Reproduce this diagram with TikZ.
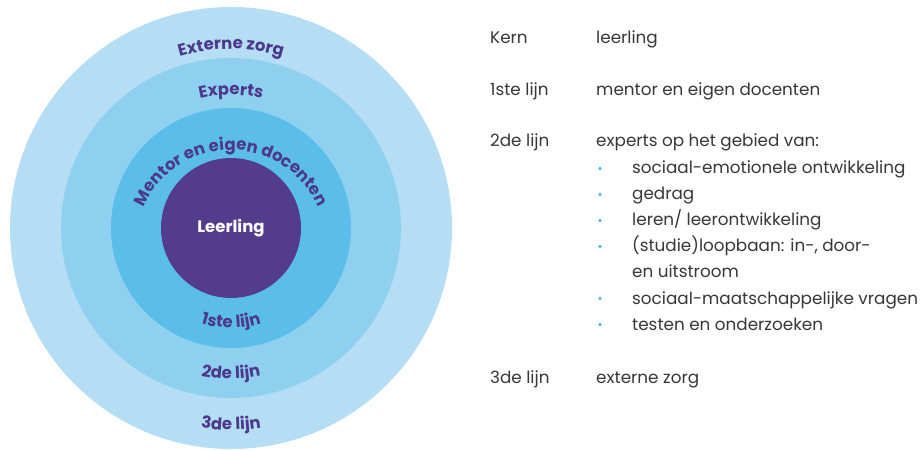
\documentclass[tikz,border=0pt]{standalone}
\usepackage{fontspec}
\setmainfont{Poppins}
\usetikzlibrary{decorations.text}
\definecolor{ringA}{RGB}{181,222,244}
\definecolor{ringB}{RGB}{143,207,240}
\definecolor{ringC}{RGB}{90,190,233}
\definecolor{core}{RGB}{84,60,140}
\definecolor{lblpurple}{RGB}{76,56,140}
\definecolor{bodytext}{RGB}{55,55,60}
\definecolor{bulletblue}{RGB}{90,185,228}
\newcommand{\lblfont}{\fontsize{16.5}{18}\selectfont\bfseries}
\tikzset{
  ring/.style={draw=none},
  arclabel/.style={decorate, decoration={text along path, text align=center, text color=lblpurple, text={|\lblfont|#1}}},
  body/.style={anchor=base west, inner sep=0pt, font=\fontsize{16.8}{18}\selectfont, text=bodytext},
  bul/.style={fill=bulletblue, draw=none, circle, inner sep=0pt, minimum size=3.8pt}
}
\begin{document}
\begin{tikzpicture}[x=1pt,y=1pt]
\useasboundingbox (0,0) rectangle (923,450);
\fill[white] (0,0) rectangle (923,450);
\coordinate (c) at (231,222);
\coordinate (m) at (231,205);
\fill[ringA] (c) circle (221);
\fill[ringB] (c) circle (170);
\fill[ringC] (c) circle (120);
\fill[core] (c) circle (70);
\node[text=white, font=\lblfont] (leerling) at (231,222) {Leerling};
% arc labels
\path[arclabel={Externe zorg}] ([shift={(125:179)}]c) arc (125:55:179);
\path[arclabel={Experts}] ([shift={(125:133)}]c) arc (125:55:133);
\path[arclabel={Mentor en eigen docenten}] ([shift={(170:95)}]m) arc (170:10:95);
\path[arclabel={1ste lijn}] ([shift={(230:100)}]c) arc (230:310:100);
\path[arclabel={2de lijn}] ([shift={(240:151)}]c) arc (240:300:151);
\path[arclabel={3de lijn}] ([shift={(245:202)}]c) arc (245:295:202);
% right side text
\node[body] (k1) at (490,406) {Kern};
\node[body] (k2) at (596,406) {leerling};
\node[body] (l1) at (490,354) {1ste lijn};
\node[body] (l1t) at (596,354) {mentor en eigen docenten};
\node[body] (l2) at (490,303) {2de lijn};
\node[body] (l2t) at (596,303) {experts op het gebied van:};
\node[body] (b1) at (632,276) {sociaal-emotionele ontwikkeling};
\node[body] (b2) at (632,250) {gedrag};
\node[body] (b3) at (632,224) {leren/ leerontwikkeling};
\node[body] (b4) at (632,198) {(studie)loopbaan: in-, door-};
\node[body] (b4b) at (632,172) {en uitstroom};
\node[body] (b5) at (632,146) {sociaal-maatschappelijke vragen};
\node[body] (b6) at (632,120) {testen en onderzoeken};
\node[body] (l3) at (490,67) {3de lijn};
\node[body] (l3t) at (596,67) {externe zorg};
\foreach \y [count=\i] in {276,250,224,198,146,120}
  \node[bul] (dot\i) at (600,\y+5.5) {};
\end{tikzpicture}
\end{document}
